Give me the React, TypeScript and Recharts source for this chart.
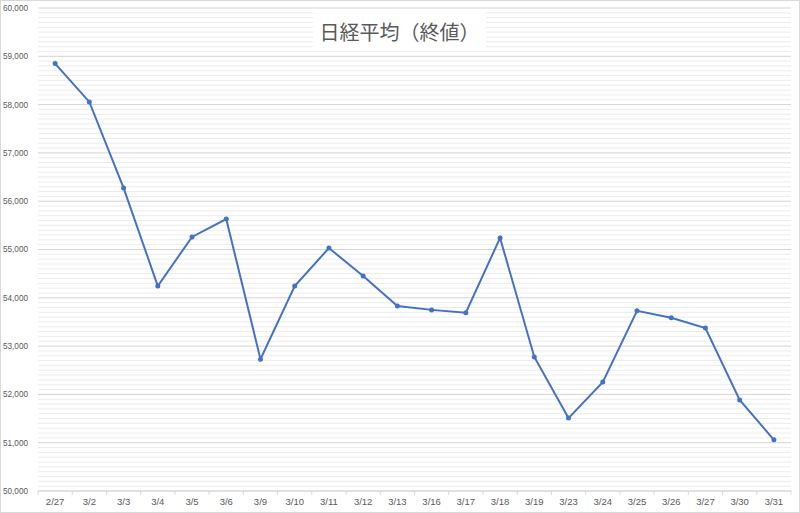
import React from 'react';
import { LineChart, Line, XAxis, YAxis, CartesianGrid, ReferenceLine } from 'recharts';

// 日経平均 終値
const dates = ['2/27', '3/2', '3/3', '3/4', '3/5', '3/6', '3/9', '3/10', '3/11', '3/12', '3/13',
  '3/16', '3/17', '3/18', '3/19', '3/23', '3/24', '3/25', '3/26', '3/27', '3/30', '3/31'];
const closes = [58850, 58055, 56275, 54245, 55260, 55630, 52730, 54245, 55030, 54450, 53830,
  53750, 53690, 55240, 52775, 51510, 52255, 53730, 53585, 53375, 51885, 51060];

const majorTicks = [50000, 51000, 52000, 53000, 54000, 55000, 56000, 57000, 58000, 59000, 60000];
const minorTicks: number[] = [];
for (let v = 50100; v < 60000; v += 100) {
  if (v % 1000 !== 0) minorTicks.push(v);
}

const data = dates.map((d, i) => ({ date: d, close: closes[i] }));

const fontFamily = 'Liberation Sans, Arial, sans-serif';

// label centred in the category, tick mark on the category boundary (like Excel)
const DateTick = (props: any) => {
  const { x, y, payload, index } = props;
  const half = payload.offset || 0;
  const last = index === dates.length - 1;
  return (
    <g>
      <line x1={x - half} x2={x - half} y1={y - 8} y2={y - 4} stroke="#d9d9d9" />
      {last && <line x1={x + half} x2={x + half} y1={y - 8} y2={y - 4} stroke="#d9d9d9" />}
      <text x={x} y={y + 6} textAnchor="middle" fill="#595959" fontSize={9.5} fontFamily={fontFamily}>
        {payload.value}
      </text>
    </g>
  );
};

const App = () => {
  return (
    <div style={{ position: 'absolute', left: 0, top: 0, width: 800, height: 513, background: '#fff' }}>
      <div style={{ position: 'absolute', inset: 0, border: '1px solid #d9d9d9', boxSizing: 'border-box' }} />
      <LineChart width={800} height={513} data={data} margin={{ top: 8, right: 9, bottom: 0, left: 0 }}>
        {minorTicks.map((v) => (
          <ReferenceLine key={v} y={v} stroke="#ececec" strokeWidth={1} ifOverflow="hidden" />
        ))}
        <CartesianGrid vertical={false} stroke="#d4d4d4" strokeWidth={1} />
        <XAxis
          dataKey="date"
          scale="band"
          height={22}
          stroke="#d9d9d9"
          tickLine={false}
          tickSize={4}
          tickMargin={4}
          tick={<DateTick />}
          interval={0}
        />
        <YAxis
          domain={[50000, 60000]}
          ticks={majorTicks}
          width={38}
          axisLine={false}
          tickLine={false}
          tickMargin={4}
          tickFormatter={(v: number) => v.toLocaleString('en-US')}
          tick={{ fill: '#595959', fontSize: 8.2, fontFamily }}
        />
        <Line
          type="linear"
          dataKey="close"
          stroke="#4472C4"
          strokeWidth={2}
          dot={{ r: 2.5, fill: '#4472C4', stroke: '#4472C4', strokeWidth: 0 }}
          isAnimationActive={false}
        />
      </LineChart>
      <div
        style={{
          position: 'absolute',
          left: 313,
          top: 12,
          width: 173,
          height: 39,
          background: '#fff',
          color: '#595959',
          fontFamily: '"Noto Sans CJK JP", sans-serif',
          fontSize: 20,
          lineHeight: '39px',
          textAlign: 'center',
        }}
      >
        日経平均（終値）
      </div>
    </div>
  );
};

export default App;
